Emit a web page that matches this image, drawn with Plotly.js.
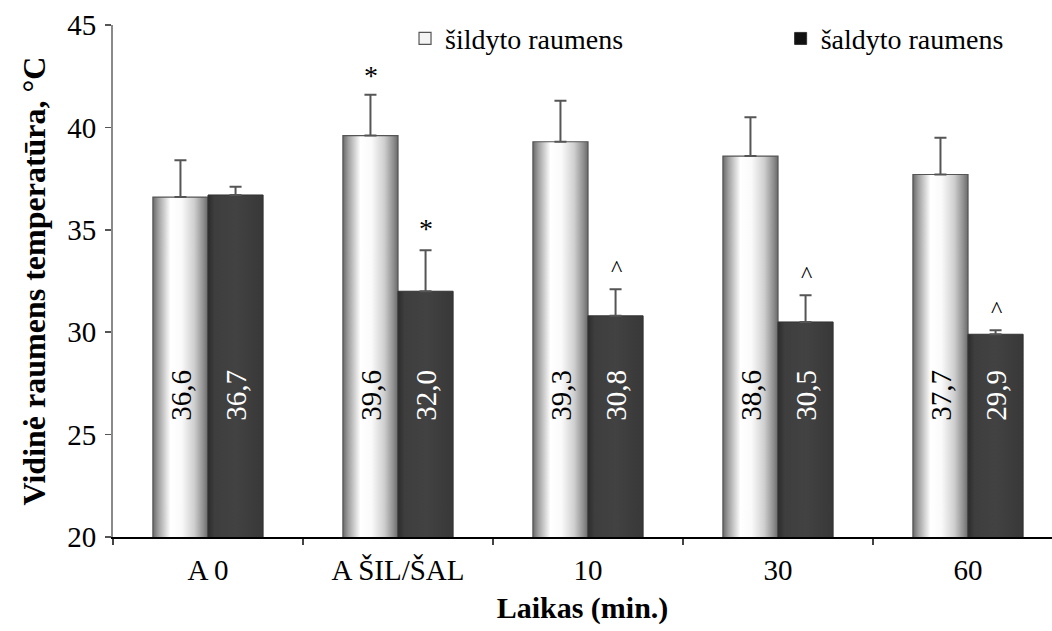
<!DOCTYPE html>
<html>
<head>
<meta charset="utf-8">
<script src="https://cdn.plot.ly/plotly-3.0.1.min.js"></script>
<style>
html,body{margin:0;padding:0;background:#fff;}
#chart{width:1052px;height:631px;}
</style>
</head>
<body>
<div id="chart"></div>
<script>
// ---- data ----
const categories = ["A 0", "A ŠIL/ŠAL", "10", "30", "60"];
const heatedName = "šildyto raumens";
const cooledName = "šaldyto raumens";
const heatedValues = [36.6, 39.6, 39.3, 38.6, 37.7];
const cooledValues = [36.7, 32.0, 30.8, 30.5, 29.9];
const heatedErr = [1.8, 2.0, 2.0, 1.9, 1.8];
const cooledErr = [0.4, 2.0, 1.3, 1.3, 0.2];
const heatedMarks = ["", "*", "", "", ""];
const cooledMarks = ["", "*", "^", "^", "^"];
const yTicks = [20, 25, 30, 35, 40, 45];

const FONT = "'Liberation Serif', 'Times New Roman', serif";
const fmt = v => v.toFixed(1).replace(".", ",");

const traces = [
  {
    type: "bar", name: heatedName, x: categories, y: heatedValues, legend: "legend",
    marker: {color: "#f4f4f4", line: {color: "#555555", width: 1.2}},
    error_y: {type: "data", symmetric: false, array: heatedErr,
              arrayminus: heatedErr.map(() => 0), color: "#555555", thickness: 2, width: 6},
    hoverinfo: "none"
  },
  {
    type: "bar", name: cooledName, x: categories, y: cooledValues, legend: "legend2",
    marker: {color: "#111111", line: {color: "#333333", width: 1}},
    error_y: {type: "data", symmetric: false, array: cooledErr,
              arrayminus: cooledErr.map(() => 0), color: "#555555", thickness: 2, width: 6},
    hoverinfo: "none"
  }
];

const annotations = [];
categories.forEach((c, i) => {
  annotations.push({x: i, y: 26.9, xref: "x", yref: "y", text: fmt(heatedValues[i]),
    textangle: -90, showarrow: false, xshift: -27,
    font: {family: FONT, size: 29, color: "#000"}});
  annotations.push({x: i, y: 26.9, xref: "x", yref: "y", text: fmt(cooledValues[i]),
    textangle: -90, showarrow: false, xshift: 28,
    font: {family: FONT, size: 29, color: "#fff"}});
  if (heatedMarks[i]) annotations.push({x: i, y: heatedValues[i] + heatedErr[i], xref: "x", yref: "y",
    text: heatedMarks[i], showarrow: false, xshift: -27, yanchor: "bottom", yshift: 2,
    font: {family: FONT, size: 28, color: "#000"}});
  if (cooledMarks[i]) annotations.push({x: i, y: cooledValues[i] + cooledErr[i], xref: "x", yref: "y",
    text: cooledMarks[i], showarrow: false, xshift: 28, yanchor: "bottom",
    yshift: cooledMarks[i] === "*" ? 4 : 6,
    font: {family: FONT, size: cooledMarks[i] === "*" ? 28 : 24, color: "#000"}});
});

const legendBase = {orientation: "h", xref: "paper", yref: "paper", y: 1.022,
  xanchor: "left", yanchor: "top", font: {family: FONT, size: 28, color: "#000"},
  bgcolor: "rgba(0,0,0,0)"};

const layout = {
  width: 1052, height: 631,
  margin: {l: 113, r: 0, t: 25, b: 94},
  paper_bgcolor: "#fff", plot_bgcolor: "#fff",
  font: {family: FONT, size: 28, color: "#000"},
  barmode: "group", bargap: 0.42, bargroupgap: 0,
  showlegend: true,
  legend: Object.assign({}, legendBase, {x: 0.311}),
  legend2: Object.assign({}, legendBase, {x: 0.711}),
  xaxis: {type: "category", range: [-0.5, 4.442], showline: true, linecolor: "#000", linewidth: 2,
          ticks: "outside", tickson: "boundaries", ticklen: 6, tickcolor: "#444", tickwidth: 1.5,
          ticklabelstandoff: 6, showgrid: false, zeroline: false, automargin: false,
          tickfont: {family: FONT, size: 29, color: "#000"},
          title: {text: "<b>Laikas (min.)</b>", standoff: 12, font: {family: FONT, size: 30, color: "#000"}}},
  yaxis: {range: [20, 45], tickvals: yTicks, ticktext: yTicks.map(String), showline: true,
          linecolor: "#8a8a8a", linewidth: 2, ticks: "outside", ticklen: 6, tickcolor: "#555", tickwidth: 1.5,
          ticklabelstandoff: 3, showgrid: false, zeroline: false, automargin: false,
          tickfont: {family: FONT, size: 29, color: "#000"},
          title: {text: "<b>Vidinė raumens temperatūra, °C</b>", standoff: 12, font: {family: FONT, size: 32, color: "#000"}}},
  annotations: annotations
};

Plotly.newPlot("chart", traces, layout, {staticPlot: true, displayModeBar: false}).then(gd => {
  const svg = gd.querySelector(".main-svg");
  const NS = "http://www.w3.org/2000/svg";
  let defs = svg.querySelector("defs");
  if (!defs) { defs = document.createElementNS(NS, "defs"); svg.insertBefore(defs, svg.firstChild); }
  function grad(id, stops) {
    const g = document.createElementNS(NS, "linearGradient");
    g.setAttribute("id", id); g.setAttribute("x1", "0"); g.setAttribute("x2", "1");
    g.setAttribute("y1", "0"); g.setAttribute("y2", "0");
    stops.forEach(([o, c]) => {
      const s = document.createElementNS(NS, "stop");
      s.setAttribute("offset", o); s.setAttribute("stop-color", c); g.appendChild(s);
    });
    defs.appendChild(g);
  }
  grad("gWhite", [["0", "#6a6a6a"], ["0.1", "#a0a0a0"], ["0.32", "#ffffff"], ["0.52", "#fafafa"],
                  ["0.75", "#cfcfcf"], ["0.92", "#8e8e8e"], ["1", "#6a6a6a"]]);
  grad("gDark", [["0", "#2c2c2c"], ["0.12", "#3e3e3e"], ["0.5", "#424242"], ["1", "#383838"]]);
  const traceGroups = gd.querySelectorAll(".barlayer .trace");
  traceGroups.forEach((tg, ti) => {
    tg.querySelectorAll(".point path").forEach(p => {
      p.style.fill = ti === 0 ? "url(#gWhite)" : "url(#gDark)";
    });
  });
});
</script>
</body>
</html>
